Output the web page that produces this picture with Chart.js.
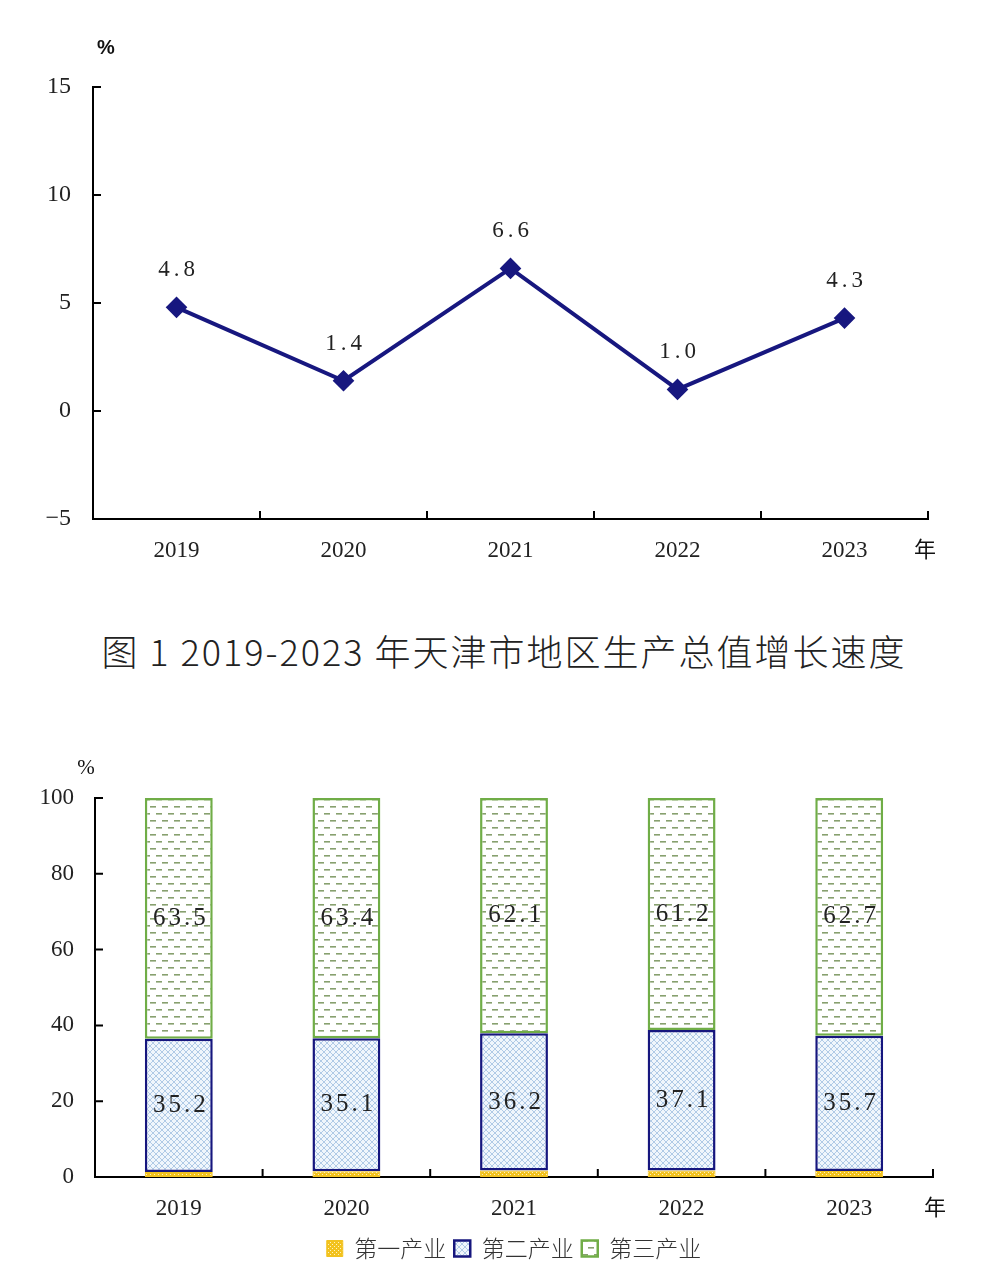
<!DOCTYPE html>
<html><head><meta charset="utf-8">
<script src="https://cdn.jsdelivr.net/npm/chart.js@4.4.0/dist/chart.umd.min.js"></script>
<style>
html,body{margin:0;padding:0;background:#fff;width:1008px;height:1276px;overflow:hidden;}
#c1wrap{position:absolute;left:0;top:0;width:1008px;height:580px;}
#c2wrap{position:absolute;left:0;top:740px;width:1008px;height:536px;}
#title{position:absolute;left:0;top:624px;width:1008px;text-align:center;font-family:"Noto Sans CJK SC",sans-serif;font-weight:300;font-size:36px;color:#222;letter-spacing:2px;line-height:52px;}
</style></head><body>
<div id="c1wrap"><canvas id="c1" width="1008" height="580"></canvas></div>
<div id="title">图 1 2019-2023 年天津市地区生产总值增长速度</div>
<div id="c2wrap"><canvas id="c2" width="1008" height="536"></canvas></div>
<script>
const years = ['2019','2020','2021','2022','2023'];
const growth = [4.8, 1.4, 6.6, 1.0, 4.3];
const growthTicks = {min:-5, max:15, step:5};
const primary = [1.3, 1.5, 1.7, 1.7, 1.6];
const secondary = [35.2, 35.1, 36.2, 37.1, 35.7];
const tertiary = [63.5, 63.4, 62.1, 61.2, 62.7];
const shareTicks = {min:0, max:100, step:20};
const seriesNames = ['第一产业','第二产业','第三产业'];

const SERIF = '"Liberation Serif","DejaVu Serif",serif';
const NAVY = '#17177f';

function makePattern(w,h,draw){
  const c=document.createElement('canvas');c.width=w;c.height=h;
  const x=c.getContext('2d');draw(x);return x.createPattern(c,'repeat');
}
const patPrimary = makePattern(4,4,x=>{x.fillStyle='#f2c21e';x.fillRect(0,0,4,4);x.fillStyle='#fff3c0';x.fillRect(0,0,1,1);x.fillRect(2,2,1,1);});
const patSecondary = makePattern(6,6,x=>{x.fillStyle='#f0f6fc';x.fillRect(0,0,6,6);x.strokeStyle='#b0cae6';x.lineWidth=1;
  x.beginPath();x.moveTo(0,0);x.lineTo(6,6);x.moveTo(6,0);x.lineTo(0,6);x.stroke();});
const patTertiary = makePattern(12,14,x=>{x.fillStyle='#ffffff';x.fillRect(0,0,12,14);x.fillStyle='#87a06e';
  x.fillRect(0,3,6,1.6);x.fillRect(6,10,6,1.6);});

function inwardTicks(chart){
  const ctx=chart.ctx, xs=chart.scales.x, ys=chart.scales.y, ca=chart.chartArea;
  ctx.save();ctx.strokeStyle='#000';ctx.lineWidth=2;ctx.beginPath();
  ys.ticks.forEach((t,i)=>{const y=ys.getPixelForTick(i);ctx.moveTo(ca.left,y);ctx.lineTo(ca.left+8,y);});
  for(let i=0;i<=xs.getLabels().length;i++){const x=xs.getPixelForValue(i-0.5);ctx.moveTo(x,ca.bottom);ctx.lineTo(x,ca.bottom-8);}
  ctx.stroke();ctx.restore();
}

const decor1 = {id:'decor1', afterDraw(chart){
  inwardTicks(chart);
  const ctx=chart.ctx;ctx.save();
  ctx.fillStyle='#111';ctx.textAlign='center';ctx.textBaseline='middle';
  ctx.font='bold 20px "Liberation Sans",sans-serif';ctx.fillText('%',106,48);
  ctx.font='22px "Noto Sans CJK SC",sans-serif';ctx.fillText('年',925,549);
  ctx.font='23px '+SERIF;ctx.fillStyle='#222';
  if('letterSpacing' in ctx) ctx.letterSpacing='4px';
  const meta=chart.getDatasetMeta(0);
  meta.data.forEach((p,i)=>{ctx.fillText(growth[i].toFixed(1),p.x+2,p.y-37);});
  ctx.restore();
}};

new Chart(document.getElementById('c1'),{
  type:'line',
  data:{labels:years,datasets:[{data:growth,borderColor:NAVY,backgroundColor:NAVY,borderWidth:4,
    pointStyle:'rectRot',pointRadius:8,pointHoverRadius:8,tension:0}]},
  options:{responsive:false,animation:false,events:[],
    layout:{padding:{left:0,top:87,right:80,bottom:0}},
    plugins:{legend:{display:false},tooltip:{enabled:false}},
    scales:{
      x:{offset:true,grid:{display:false},border:{display:true,color:'#000',width:2},
        ticks:{color:'#222',font:{family:SERIF,size:23},padding:10},
        afterFit(s){s.height=61;}},
      y:{min:growthTicks.min,max:growthTicks.max,grid:{display:false},border:{display:true,color:'#000',width:2},
        ticks:{stepSize:growthTicks.step,color:'#222',font:{family:SERIF,size:24},padding:14,
          callback:v=>String(v).replace('-','−')},
        afterFit(s){s.width=93;}}
    }},
  plugins:[decor1]
});

const decor2 = {id:'decor2', afterDraw(chart){
  inwardTicks(chart);
  const ctx=chart.ctx;ctx.save();
  ctx.fillStyle='#111';ctx.textAlign='center';ctx.textBaseline='middle';
  ctx.font='21px '+SERIF;ctx.fillText('%',86,28);
  ctx.font='22px "Noto Sans CJK SC",sans-serif';ctx.fillText('年',935,467);
  ctx.font='25px '+SERIF;ctx.fillStyle='#222';
  if('letterSpacing' in ctx) ctx.letterSpacing='3px';
  [1,2].forEach(di=>{
    const meta=chart.getDatasetMeta(di);const vals=chart.data.datasets[di].data;
    meta.data.forEach((b,i)=>{const c=b.getCenterPoint();ctx.fillText(vals[i].toFixed(1),c.x+2,c.y);});
  });
  ctx.restore();
}};

new Chart(document.getElementById('c2'),{
  type:'bar',
  data:{labels:years,datasets:[
    {label:seriesNames[0],data:primary,backgroundColor:patPrimary,borderColor:'#f2c21e',borderWidth:1,borderSkipped:false},
    {label:seriesNames[1],data:secondary,backgroundColor:patSecondary,borderColor:'#16167e',borderWidth:2.5,borderSkipped:false},
    {label:seriesNames[2],data:tertiary,backgroundColor:patTertiary,borderColor:'#70ad47',borderWidth:2.5,borderSkipped:false}
  ]},
  options:{responsive:false,animation:false,events:[],
    layout:{padding:{left:0,top:58,right:75,bottom:6}},
    datasets:{bar:{barPercentage:0.405,categoryPercentage:1}},
    plugins:{tooltip:{enabled:false},
      legend:{position:'bottom',fullSize:false,labels:{color:'#333',font:{family:'"Noto Sans CJK SC",sans-serif',size:23,weight:300},
        boxWidth:16,boxHeight:16,padding:8}}},
    scales:{
      x:{stacked:true,grid:{display:false},border:{display:true,color:'#000',width:2},
        ticks:{color:'#222',font:{family:SERIF,size:23},padding:10},
        afterFit(s){s.height=52;}},
      y:{stacked:true,min:shareTicks.min,max:shareTicks.max,grid:{display:false},border:{display:true,color:'#000',width:2},
        ticks:{stepSize:shareTicks.step,color:'#222',font:{family:SERIF,size:23},padding:13},
        afterFit(s){s.width=95;}}
    }},
  plugins:[decor2]
});
</script>
</body></html>
